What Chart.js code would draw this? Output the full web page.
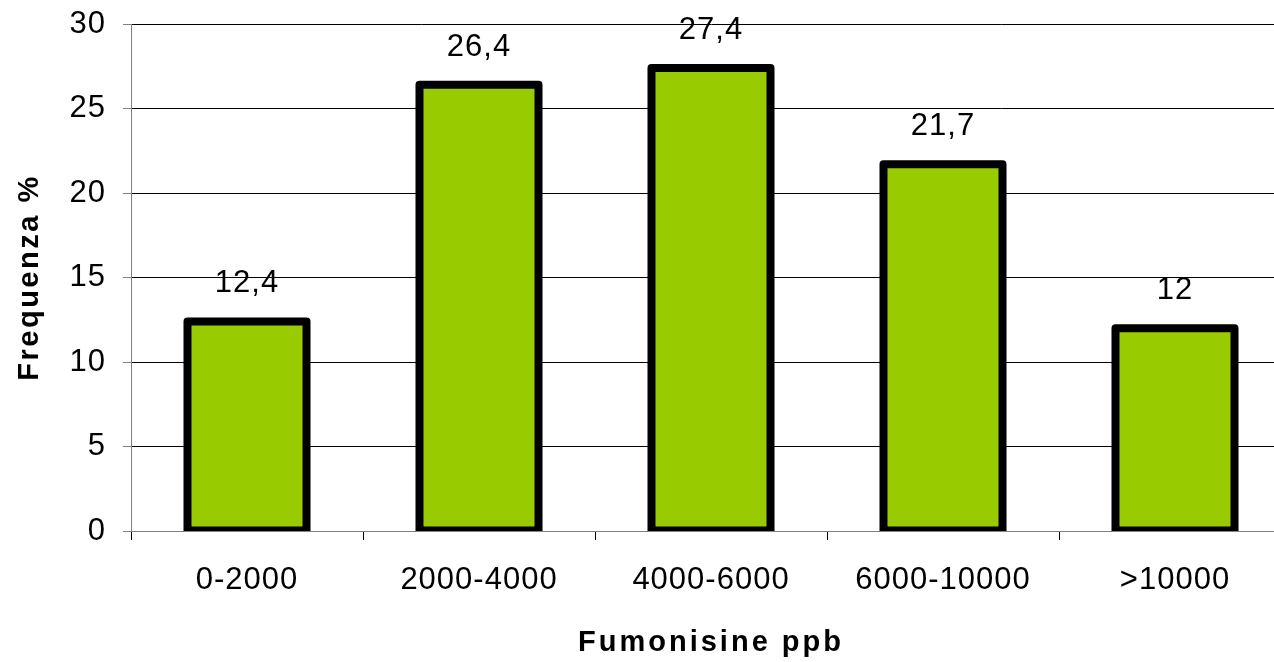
<!DOCTYPE html>
<html>
<head>
<meta charset="utf-8">
<script src="https://cdn.jsdelivr.net/npm/chart.js@4"></script>
<style>
  html, body { margin: 0; padding: 0; background: #fff; overflow: hidden; }
  #wrap { width: 1291px; height: 662px; }
</style>
</head>
<body>
<div id="wrap"><canvas id="c" width="1291" height="662"></canvas></div>
<script>
const categories = ["0-2000", "2000-4000", "4000-6000", "6000-10000", ">10000"];
const frequenze = [12.4, 26.4, 27.4, 21.7, 12];
const yTicks = [0, 5, 10, 15, 20, 25, 30];
const xTitle = "Fumonisine ppb";
const yTitle = "Frequenza %";

const FONT = "'Liberation Sans', Arial, sans-serif";
const GREEN = "#99CC00";
const AXIS_GRAY = "#808080";

// Excel-like wider text spacing
const textSpacing = {
  id: "textSpacing",
  beforeDraw(chart) {
    chart.ctx.letterSpacing = "1px";
    Object.values(chart.scales).forEach((s) => {
      if (!s._origDrawTitle) {
        s._origDrawTitle = s.drawTitle;
        s.drawTitle = function () {
          const ctx = this.ctx;
          const prev = ctx.letterSpacing;
          ctx.letterSpacing = this.axis === "x" ? "3px" : "2.5px";
          this._origDrawTitle.apply(this, arguments);
          ctx.letterSpacing = prev;
        };
      }
    });
  }
};

const barOutline = {
  id: "barOutline",
  afterDatasetsDraw(chart) {
    const ctx = chart.ctx;
    const area = chart.chartArea;
    const meta = chart.getDatasetMeta(0);
    ctx.save();
    ctx.beginPath();
    ctx.rect(area.left, 0, area.right - area.left, area.bottom);
    ctx.clip();
    ctx.lineWidth = 8;
    ctx.strokeStyle = "#000";
    ctx.lineJoin = "round";
    meta.data.forEach((bar) => {
      const p = bar.getProps(["x", "y", "base", "width"], true);
      ctx.strokeRect(p.x - p.width / 2, p.y, p.width, p.base - p.y);
    });
    ctx.restore();

    ctx.save();
    ctx.fillStyle = "#000";
    ctx.font = "31px " + FONT;
    ctx.letterSpacing = "1px";
    ctx.textAlign = "center";
    ctx.textBaseline = "alphabetic";
    meta.data.forEach((bar, i) => {
      const p = bar.getProps(["x", "y"], true);
      const v = chart.data.datasets[0].data[i];
      ctx.fillText(String(v).replace(".", ","), p.x, p.y - 29);
    });
    ctx.restore();
  }
};

new Chart(document.getElementById("c"), {
  type: "bar",
  data: {
    labels: categories,
    datasets: [{
      data: frequenze,
      backgroundColor: GREEN,
      borderWidth: 0,
      barPercentage: 0.513,
      categoryPercentage: 1
    }]
  },
  options: {
    responsive: false,
    animation: false,
    devicePixelRatio: 1,
    layout: { padding: { top: 24, right: 0, bottom: 0, left: 0 } },
    plugins: { legend: { display: false }, tooltip: { enabled: false } },
    scales: {
      x: {
        offset: true,
        afterFit(scale) { scale.height = 131; scale.paddingLeft = 0; scale.paddingRight = 0; },
        border: { display: true, color: AXIS_GRAY, width: 1 },
        grid: {
          offset: true,
          drawOnChartArea: false,
          drawTicks: true,
          tickLength: 9,
          tickColor: "#000",
          lineWidth: 1
        },
        ticks: {
          color: "#000",
          font: { family: FONT, size: 31 },
          padding: 22,
          maxRotation: 0
        },
        title: {
          display: true,
          text: xTitle,
          color: "#000",
          font: { family: FONT, size: 29, weight: "bold" },
          padding: { top: 0, bottom: 2 }
        }
      },
      y: {
        min: 0,
        max: 30,
        afterFit(scale) { scale.width = 131; scale.paddingTop = 0; scale.paddingBottom = 0; },
        afterBuildTicks(scale) { scale.ticks = yTicks.map(v => ({ value: v })); },
        border: { display: true, color: AXIS_GRAY, width: 1 },
        grid: {
          color: (c) => (c.tick && c.tick.value === 0 ? AXIS_GRAY : "#000"),
          lineWidth: 1,
          drawTicks: true,
          tickLength: 8,
          tickColor: AXIS_GRAY
        },
        ticks: {
          color: "#000",
          font: { family: FONT, size: 31 },
          padding: 17
        },
        title: {
          display: true,
          text: yTitle,
          color: "#000",
          font: { family: FONT, size: 29, weight: "bold" },
          padding: { top: 13, bottom: 0 }
        }
      }
    }
  },
  plugins: [textSpacing, barOutline]
});
</script>
</body>
</html>
